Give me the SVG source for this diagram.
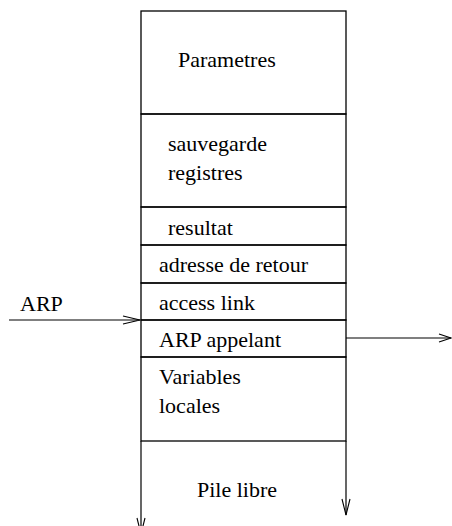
<svg xmlns="http://www.w3.org/2000/svg" width="452" height="526" viewBox="0 0 452 526">
  <style>
    .cell { fill: none; stroke: #000; stroke-width: 1.3; }
    .wire { fill: none; stroke: #000; stroke-width: 1.2; }
    .head { fill: none; stroke: #000; stroke-width: 1.1; stroke-linejoin: miter; }
    text { font-family: 'Liberation Serif', 'Tinos', 'Times New Roman', 'DejaVu Serif', serif; font-size: 22px; fill: #000; }
  </style>
  <rect width="452" height="526" fill="#fff"/>

  <!-- activation record compartments -->
  <g id="parametres">
    <rect class="cell" x="141" y="11" width="205" height="103"/>
    <text x="178" y="67">Parametres</text>
  </g>
  <g id="sauvegarde-registres">
    <rect class="cell" x="141" y="114" width="205" height="93"/>
    <text x="168" y="151">sauvegarde</text>
    <text x="168" y="180">registres</text>
  </g>
  <g id="resultat">
    <rect class="cell" x="141" y="207" width="205" height="38"/>
    <text x="168" y="235">resultat</text>
  </g>
  <g id="adresse-retour">
    <rect class="cell" x="141" y="245" width="205" height="38"/>
    <text x="159" y="272">adresse de retour</text>
  </g>
  <g id="access-link">
    <rect class="cell" x="141" y="283" width="205" height="37"/>
    <text x="159" y="310">access link</text>
  </g>
  <g id="arp-appelant">
    <rect class="cell" x="141" y="320" width="205" height="37"/>
    <text x="159" y="347">ARP appelant</text>
  </g>
  <g id="variables-locales">
    <rect class="cell" x="141" y="357" width="205" height="84"/>
    <text x="159" y="384">Variables</text>
    <text x="159" y="413">locales</text>
  </g>
  <g id="pile-libre">
    <text x="197" y="497">Pile libre</text>
  </g>

  <!-- pointers and growth direction -->
  <g id="connectors">
    <g id="arp-in">
      <text x="20" y="311">ARP</text>
      <line class="wire" x1="9" y1="320" x2="140" y2="320"/>
      <polyline class="head" points="123,316 140,320 123,324"/>
    </g>
    <g id="arp-out">
      <line class="wire" x1="346" y1="338" x2="451" y2="338"/>
      <polyline class="head" points="439,334 451,338 439,342"/>
    </g>
    <g id="stack-left">
      <line class="wire" x1="141" y1="441" x2="141" y2="534"/>
      <polyline class="head" points="137,518 141,534 145,518"/>
    </g>
    <g id="stack-right">
      <line class="wire" x1="346" y1="441" x2="346" y2="515"/>
      <polyline class="head" points="342,499 346,515 350,499"/>
    </g>
  </g>
</svg>
